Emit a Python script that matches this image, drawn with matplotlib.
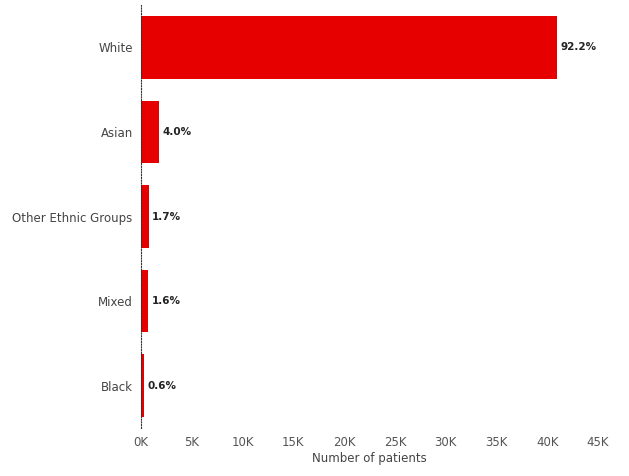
import matplotlib
matplotlib.use("Agg")
import matplotlib.pyplot as plt

categories = ["White", "Asian", "Other Ethnic Groups", "Mixed", "Black"]
values = [41000, 1780, 760, 710, 270]
labels = ["92.2%", "4.0%", "1.7%", "1.6%", "0.6%"]
xticks = [0, 5000, 10000, 15000, 20000, 25000, 30000, 35000, 40000, 45000]
xticklabels = ["0K", "5K", "10K", "15K", "20K", "25K", "30K", "35K", "40K", "45K"]

fig = plt.figure(figsize=(6.29, 4.76), dpi=100)
ax = fig.add_axes([141/629, 1-428/476, (598-141)/629, (428-5)/476])
y = list(range(len(categories)))
ax.barh(y, values, height=0.74, color="#E60000")
for yi, v, l in zip(y, values, labels):
    ax.text(v + 350, yi, l, va="center", ha="left", fontsize=7.5, fontweight="bold", color="#222222")
ax.set_ylim(len(categories) - 0.5, -0.5)
ax.set_xlim(0, 45000)
ax.set_yticks(y)
ax.set_yticklabels(categories, fontsize=8.5, color="#444444")
ax.set_xticks(xticks)
ax.set_xticklabels(xticklabels, fontsize=8.5, color="#555555")
ax.tick_params(length=0, pad=6)
for s in ["top", "right", "bottom"]:
    ax.spines[s].set_visible(False)
ax.spines["left"].set_linestyle((0, (1, 1.5)))
ax.spines["left"].set_linewidth(0.8)
ax.spines["left"].set_color("#333333")
ax.set_xlabel("Number of patients", fontsize=8.5, color="#444444", labelpad=2)
fig.savefig("out.png", dpi=100)
